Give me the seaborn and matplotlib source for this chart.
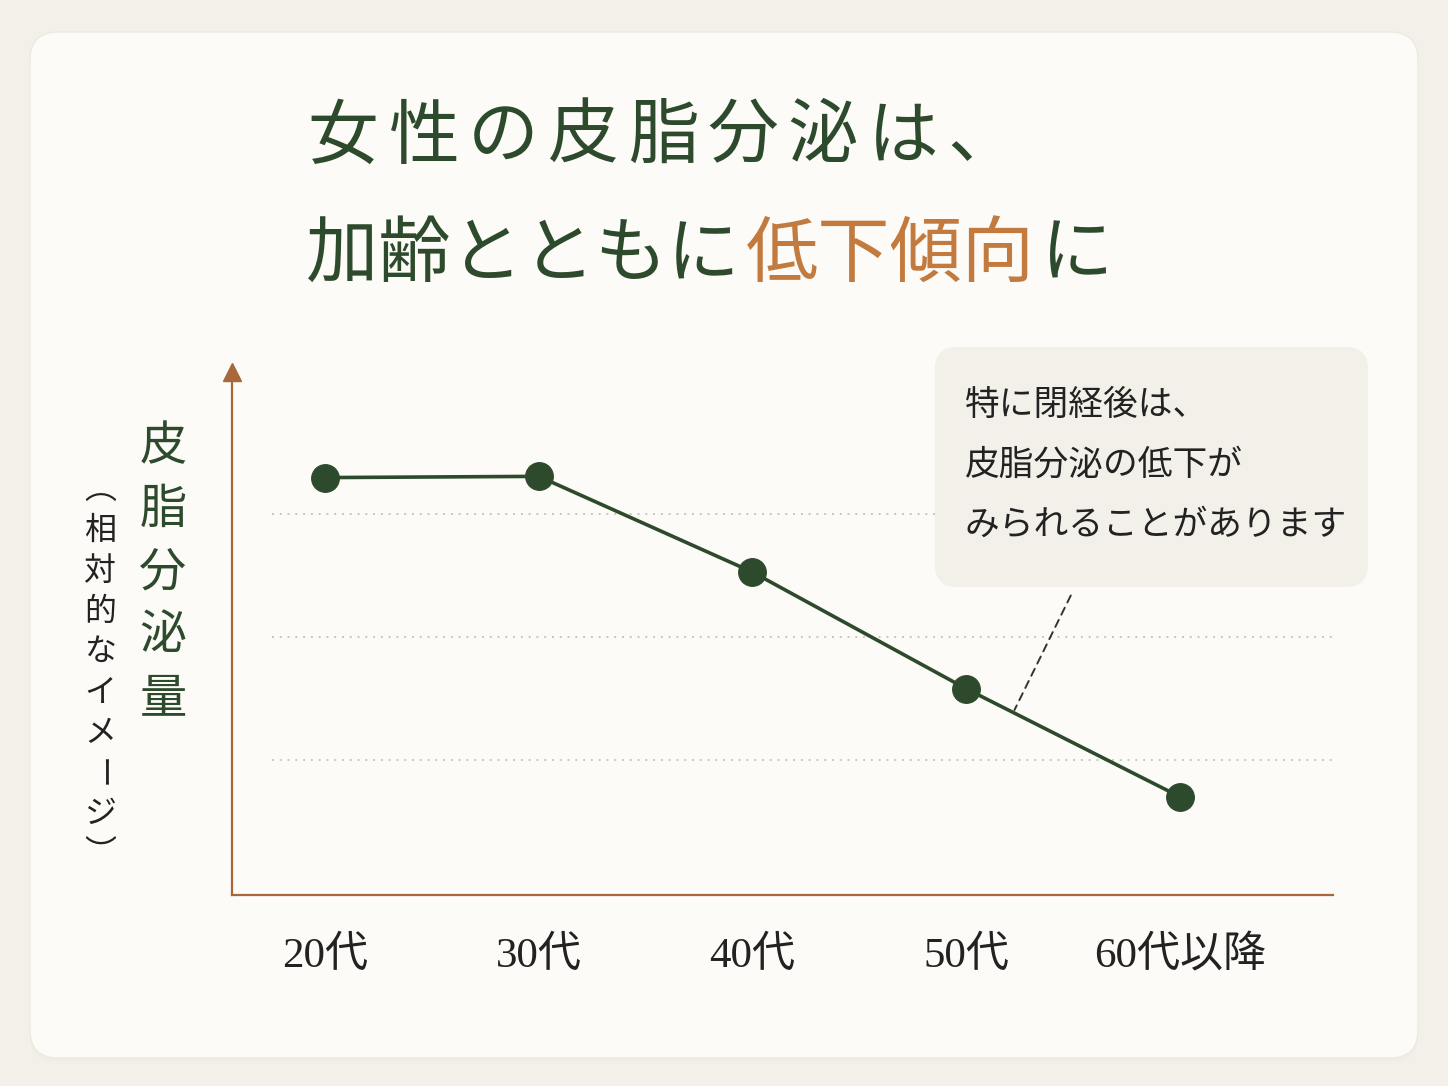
import pandas as pd
import matplotlib.pyplot as plt
import matplotlib.patches as mpatches
from matplotlib.transforms import IdentityTransform
import seaborn as sns

# chart data
ages = ["20代", "30代", "40代", "50代", "60代以降"]
sebum = [3.30, 3.31, 2.53, 1.58, 0.70]
grid_levels = [1, 2, 3]

title_line1 = "女性の皮脂分泌は、"
title_line2 = ["加齢とともに", "低下傾向", "に"]
ylabel_main = "皮脂分泌量"
ylabel_sub = "（相対的なイメージ）"
note_lines = ["特に閉経後は、", "皮脂分泌の低下が", "みられることがあります"]

GREEN = "#2d4a2c"
ORANGE = "#c27a3e"
BROWN = "#a8683a"
INK = "#222222"

W, H = 1448, 1086

sns.set_theme(style="white")
plt.rcParams["font.family"] = ["Noto Sans CJK JP", "DejaVu Sans"]

fig = plt.figure(figsize=(W / 100, H / 100), dpi=100)
fig.patch.set_facecolor("#f3f0e9")


def fx(x):
    return x / W


def fy(y):
    return 1 - y / H


# card with soft shadow
for off, alpha in [(6, 0.05), (3, 0.06)]:
    fig.add_artist(mpatches.FancyBboxPatch(
        (30, H - 1058 - off), 1388, 1026, boxstyle="round,pad=0,rounding_size=28",
        transform=IdentityTransform(), facecolor="#d8d2c4", edgecolor="none", alpha=alpha, zorder=0))
fig.add_artist(mpatches.FancyBboxPatch(
    (30, H - 1058), 1388, 1026, boxstyle="round,pad=0,rounding_size=28",
    transform=IdentityTransform(), facecolor="#fcfbf7", edgecolor="#eee9de", lw=1, zorder=0))

# title: first line letter-spaced, second line in three coloured runs
for i, ch in enumerate(title_line1):
    fig.text(fx(343 + i * 80), fy(137), ch, fontsize=51, color=GREEN, va="center", ha="center")
renderer = fig.canvas.get_renderer()
x = 306
for part, col in zip(title_line2, [GREEN, ORANGE, GREEN]):
    t = fig.text(fx(x), fy(255), part, fontsize=52, color=col, va="center", ha="left")
    x = t.get_window_extent(renderer).x1 + 6

# axes
ax = fig.add_axes([fx(232), fy(895), fx(1333) - fx(232), (895 - 372) / H])
ax.set_facecolor("none")
df = pd.DataFrame({"age": ages, "sebum": sebum})
sns.lineplot(data=df, x="age", y="sebum", ax=ax, color=GREEN, linewidth=2.6,
             marker="o", markersize=20, markeredgecolor=GREEN, zorder=5)
ax.set_xlim(-0.435, 4.716)
ax.set_ylim(-0.1, 4.16)
ax.hlines(grid_levels, -0.25, 4.716, colors="#c9c6bf", linestyles=(0, (1, 3)), linewidth=1.4, zorder=1)

for side in ["top", "right"]:
    ax.spines[side].set_visible(False)
for side in ["left", "bottom"]:
    ax.spines[side].set_color(BROWN)
    ax.spines[side].set_linewidth(1.6)
ax.plot([0], [1.0], marker="^", markersize=13, color=BROWN, transform=ax.transAxes, clip_on=False)

ax.set_yticks([])
ax.set_xlabel("")
ax.set_ylabel("")
ax.tick_params(axis="x", length=0, pad=30)
for lab in ax.get_xticklabels():
    lab.set_fontfamily(["Liberation Serif", "Noto Sans CJK JP"])
    lab.set_fontsize(31)
    lab.set_color(INK)

# vertical y label
for i, ch in enumerate(ylabel_main):
    fig.text(fx(163), fy(447 + i * 63), ch, fontsize=34, color=GREEN, ha="center", va="center")
vertical_forms = {"（": "︵", "）": "︶"}
for i, ch in enumerate(ylabel_sub):
    rot = -90 if ch == "ー" else 0
    fig.text(fx(100), fy(490 + i * 40.5), vertical_forms.get(ch, ch), fontsize=23, color=INK,
             ha="center", va="center", rotation=rot)

# note box
fig.add_artist(mpatches.FancyBboxPatch(
    (935, H - 587), 433, 240, boxstyle="round,pad=0,rounding_size=22",
    transform=IdentityTransform(), facecolor="#f2f0e9", edgecolor="none", zorder=1))
for i, line in enumerate(note_lines):
    fig.text(fx(965), fy(405 + i * 60), line, fontsize=25, color=INK, ha="left", va="center")

t = 0.22
ax.annotate("", xy=(3 + t, sebum[3] + t * (sebum[4] - sebum[3])),
            xytext=(fx(1072), fy(593)), textcoords="figure fraction",
            arrowprops=dict(arrowstyle="-", color="#333333", lw=1.4, linestyle=(0, (4, 3))))

fig.savefig("out.png", dpi=100, facecolor=fig.get_facecolor())
